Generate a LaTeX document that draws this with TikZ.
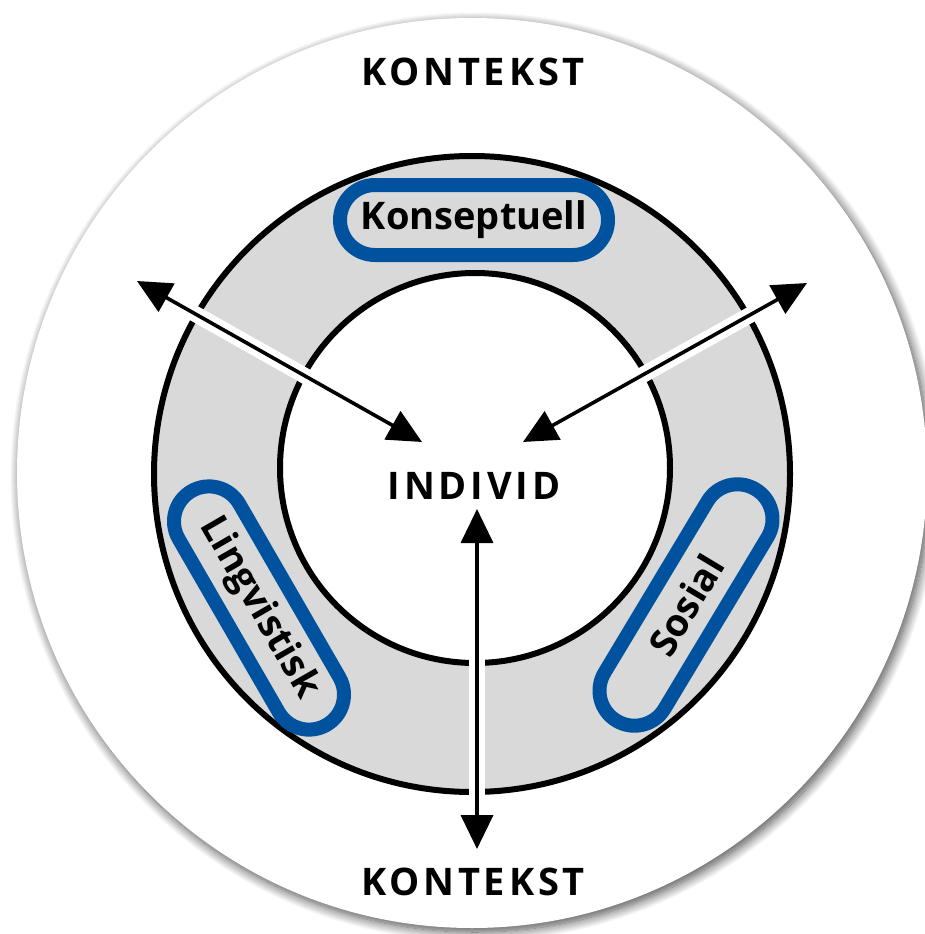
\documentclass[tikz,border=0pt]{standalone}
\usepackage{fontspec}
\setmainfont{Open Sans}
\usetikzlibrary{arrows.meta,shadows.blur}
\definecolor{ringgray}{RGB}{217,217,217}
\definecolor{pillblue}{RGB}{0,82,159}
\begin{document}
\begin{tikzpicture}[x=1pt,y=-1pt,
  pill/.style={draw=pillblue, fill=ringgray, line width=14pt, rounded corners=35pt,
    minimum width=268pt, minimum height=70pt, inner sep=0pt,
    font=\fontsize{38}{44}\selectfont\bfseries},
  bigtext/.style={font=\fontsize{38}{44}\selectfont\bfseries\addfontfeatures{LetterSpace=10}},
  casing/.style={white, line width=16pt, shorten <=30pt, shorten >=30pt},
  twoarrow/.style={black, line width=3.6pt,
    {Triangle[length=34pt,width=32pt]}-{Triangle[length=34pt,width=32pt]}}]
\useasboundingbox (0,0) rectangle (925,934);
% outer white disc with soft shadow
\path[fill=white, blur shadow={shadow xshift=3pt, shadow yshift=-4pt, shadow blur radius=10pt, shadow blur steps=14, shadow opacity=70}]
  (472,473) circle[radius=455];
% gray ring
\draw[line width=6pt, fill=ringgray] (472,474) circle[radius=318];
\draw[line width=6pt, fill=white] (475,468) circle[radius=195];
% pills
\node[pill] (kon) at (474,220) {Konseptuell};
\node[pill, minimum width=270pt, rotate=-60] (lin) at (259,608) {Lingvistisk};
\node[pill, minimum width=270pt, rotate=59] (sos) at (686,605) {Sosial};
% texts
\node[bigtext] (ktop) at (473,72) {KONTEKST};
\node[bigtext] (kbot) at (473,882) {KONTEKST};
\node[bigtext] (ind) at (474,486) {INDIVID};
% arrow ends
\coordinate (lo) at (137,281);
\coordinate (li) at (422,442);
\coordinate (ro) at (807,283);
\coordinate (ri) at (523,442);
\coordinate (bt) at (477,509);
\coordinate (bb) at (477,849);
% casings
\draw[casing] (lo) -- (li);
\draw[casing] (ro) -- (ri);
\draw[casing] (bt) -- (bb);
% arrows
\draw[twoarrow] (lo) -- (li);
\draw[twoarrow] (ro) -- (ri);
\draw[twoarrow] (bt) -- (bb);
\end{tikzpicture}
\end{document}
